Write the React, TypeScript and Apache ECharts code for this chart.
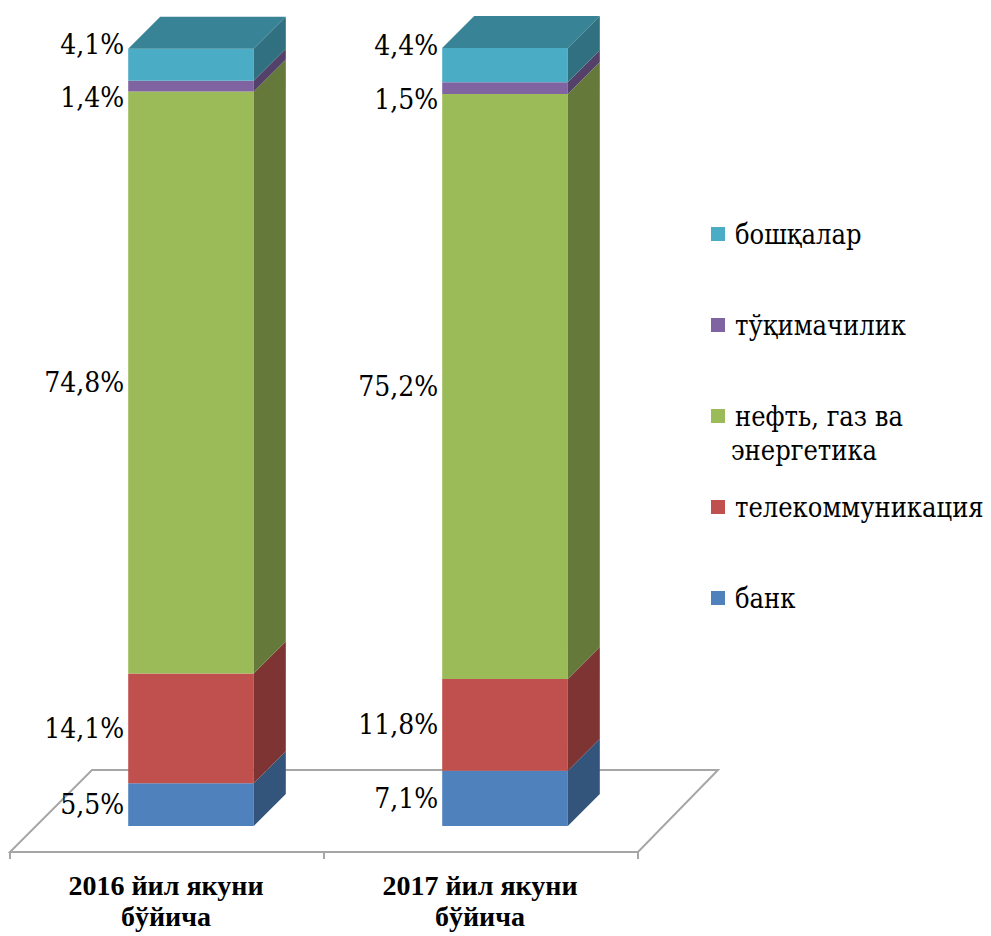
import React, { useEffect, useRef } from "react";
import * as echarts from "echarts";

const categories = ["2016 йил якуни\nбўйича", "2017 йил якуни\nбўйича"];
const seriesNames = ["банк", "телекоммуникация", "нефть, газ ва энергетика", "тўқимачилик", "бошқалар"];
const bank = [5.5, 7.1];
const telecom = [14.1, 11.8];
const oilGas = [74.8, 75.2];
const textile = [1.4, 1.5];
const others = [4.1, 4.4];
const valueLists = [bank, telecom, oilGas, textile, others];

const colors = ["#4F81BD", "#C0504D", "#9BBB59", "#8064A2", "#4BACC6"];
const labelShift = [0, 0, 0, 11, -20];
const FONT_BOLD = "Liberation Serif";
const FONT = "DejaVu Serif Condensed, DejaVu Serif";
const DEPTH = 32;

function shade(hex: string, k: number) {
  const n = parseInt(hex.slice(1), 16);
  const r = Math.round(((n >> 16) & 255) * k);
  const g = Math.round(((n >> 8) & 255) * k);
  const b = Math.round((n & 255) * k);
  return `rgb(${r},${g},${b})`;
}

function fmt(v: number) {
  return v.toFixed(1).replace(".", ",") + "%";
}

export default function App() {
  const ref = useRef<HTMLDivElement>(null);
  useEffect(() => {
    if (!ref.current) return;
    const chart = echarts.init(ref.current, undefined, { renderer: "svg" });
    const topIdx = valueLists.length - 1;

    const barSeries = valueLists.map((vals, si) => {
      const data = vals.map((v, ci) => {
        let start = 0;
        for (let k = 0; k < si; k++) start += valueLists[k][ci];
        return [ci, start, start + v, v];
      });
      const color = colors[si];
      return {
        type: "custom",
        name: seriesNames[si],
        itemStyle: { color },
        z: 3,
        data,
        renderItem: (params: any, api: any) => {
          const cat = api.value(0);
          const s = api.value(1);
          const e = api.value(2);
          const v = api.value(3);
          const p0 = api.coord([cat, s]);
          const p1 = api.coord([cat, e]);
          const bw = api.size([1, 0])[0] * 0.4;
          const x = p0[0] - bw / 2;
          const yB = p0[1];
          const yT = p1[1];
          const children: any[] = [
            {
              type: "rect",
              shape: { x, y: yT, width: bw, height: yB - yT },
              style: { fill: color },
            },
            {
              type: "polygon",
              shape: {
                points: [
                  [x + bw, yB],
                  [x + bw + DEPTH, yB - DEPTH],
                  [x + bw + DEPTH, yT - DEPTH],
                  [x + bw, yT],
                ],
              },
              style: { fill: shade(color, 0.65) },
            },
          ];
          if (si === topIdx) {
            children.push({
              type: "polygon",
              shape: {
                points: [
                  [x, yT],
                  [x + bw, yT],
                  [x + bw + DEPTH, yT - DEPTH],
                  [x + DEPTH, yT - DEPTH],
                ],
              },
              style: { fill: shade(color, 0.76) },
            });
          }
          children.push({
            type: "text",
            style: {
              text: fmt(v),
              x: x - 4,
              y: (yB + yT) / 2 + labelShift[si],
              align: "right",
              verticalAlign: "middle",
              fontSize: 28,
              fontFamily: FONT,
              fill: "#000",
            },
          });
          return { type: "group", children };
        },
      };
    });

    const floorSeries = {
      type: "custom",
      name: "floor",
      z: 1,
      silent: true,
      data: [[0]],
      renderItem: (params: any) => {
        const cs = params.coordSys;
        const L = cs.x;
        const R = cs.x + cs.width;
        const B = cs.y + cs.height;
        const stroke = "#A6A6A6";
        const children: any[] = [
          {
            type: "polygon",
            shape: {
              points: [
                [L - 24, B + 26],
                [R - 24, B + 26],
                [R + 56, B - 56],
                [L + 58, B - 56],
              ],
            },
            style: { fill: "#fff", stroke, lineWidth: 2 },
          },
        ];
        for (let i = 0; i <= categories.length; i++) {
          const tx = L - 24 + (i * cs.width) / categories.length;
          children.push({
            type: "line",
            shape: { x1: tx, y1: B + 26, x2: tx, y2: B + 33 },
            style: { stroke, lineWidth: 2 },
          });
        }
        return { type: "group", children };
      },
    };

    chart.setOption({
      animation: false,
      grid: { left: 34, right: 329, top: 48, bottom: 110, containLabel: false },
      xAxis: {
        type: "category",
        data: categories,
        axisLine: { show: false },
        axisTick: { show: false },
        splitLine: { show: false },
        axisLabel: {
          margin: 44,
          fontSize: 28,
          fontWeight: "bold",
          fontFamily: FONT_BOLD,
          color: "#000",
          lineHeight: 31,
          padding: [0, 50, 0, 0],
        },
      },
      yAxis: {
        type: "value",
        min: 0,
        max: 100,
        show: false,
      },
      legend: {
        orient: "vertical",
        left: 706,
        top: 212,
        itemGap: 57,
        itemWidth: 14,
        itemHeight: 14,
        icon: "rect",
        selectedMode: false,
        data: seriesNames.slice().reverse(),
        formatter: (name: string) => (name === seriesNames[2] ? "нефть, газ ва" : name),
        textStyle: {
          fontSize: 27,
          fontFamily: FONT,
          color: "#000",
          lineHeight: 34,
          padding: [0, 0, 0, 5],
        },
      },
      graphic: [
        {
          type: "text",
          left: 731,
          top: 437,
          style: { text: "энергетика", fontSize: 27, fontFamily: FONT, fill: "#000" },
        },
      ],
      series: [floorSeries, ...barSeries],
    });
    return () => chart.dispose();
  }, []);
  return (
    <div
      ref={ref}
      style={{ position: "absolute", left: 0, top: 0, width: 991, height: 936, background: "#fff" }}
    />
  );
}
